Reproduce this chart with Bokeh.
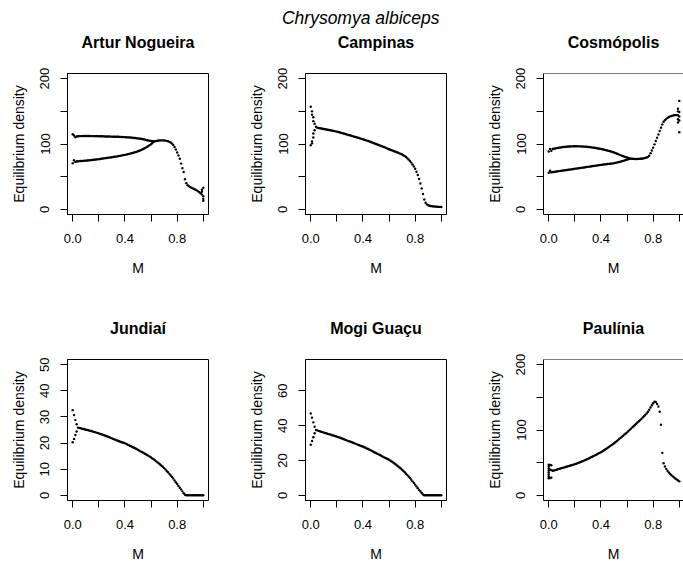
from bokeh.plotting import figure
from bokeh.models import Range1d, FixedTicker, NumeralTickFormatter, Title, ColumnDataSource, Span
from bokeh.layouts import column, row
from bokeh.embed import file_html
from bokeh.resources import INLINE

FONT = "Liberation Sans"

# Dispersal parameter M (x axis), step 0.01
M = [0.00, 0.01, 0.02, 0.03, 0.04, 0.05, 0.06, 0.07, 0.08, 0.09,
     0.10, 0.11, 0.12, 0.13, 0.14, 0.15, 0.16, 0.17, 0.18, 0.19,
     0.20, 0.21, 0.22, 0.23, 0.24, 0.25, 0.26, 0.27, 0.28, 0.29,
     0.30, 0.31, 0.32, 0.33, 0.34, 0.35, 0.36, 0.37, 0.38, 0.39,
     0.40, 0.41, 0.42, 0.43, 0.44, 0.45, 0.46, 0.47, 0.48, 0.49,
     0.50, 0.51, 0.52, 0.53, 0.54, 0.55, 0.56, 0.57, 0.58, 0.59,
     0.60, 0.61, 0.62, 0.63, 0.64, 0.65, 0.66, 0.67, 0.68, 0.69,
     0.70, 0.71, 0.72, 0.73, 0.74, 0.75, 0.76, 0.77, 0.78, 0.79,
     0.80, 0.81, 0.82, 0.83, 0.84, 0.85, 0.86, 0.87, 0.88, 0.89,
     0.90, 0.91, 0.92, 0.93, 0.94, 0.95, 0.96, 0.97, 0.98, 0.99, 1.00]

suptitle = "Chrysomya albiceps"
titles = ["Artur Nogueira", "Campinas", "Cosmópolis", "Jundiaí", "Mogi Guaçu", "Paulínia"]

# ---- Artur Nogueira: 2-cycle for M 0.00-0.62, single branch 0.63-1.00
artur_upper = [115.0, 113.0, 110.5, 111.5, 111.8, 112.0, 112.1, 112.1, 112.2, 112.2,
               112.2, 112.2, 112.2, 112.2, 112.1, 112.1, 112.1, 112.0, 112.0, 112.0,
               111.9, 111.9, 111.8, 111.8, 111.7, 111.6, 111.6, 111.5, 111.4, 111.3,
               111.3, 111.2, 111.2, 111.1, 111.0, 111.0, 110.9, 110.8, 110.7, 110.6,
               110.5, 110.4, 110.2, 110.1, 109.9, 109.7, 109.5, 109.3, 109.1, 108.9,
               108.6, 108.3, 108.0, 107.6, 107.2, 106.8, 106.3, 105.8, 105.3, 104.9,
               104.6, 104.3, 104.1]
artur_lower = [70.5, 75.0, 72.5, 73.2, 73.5, 73.7, 73.9, 74.0, 74.2, 74.3,
               74.5, 74.7, 74.9, 75.1, 75.3, 75.5, 75.8, 76.0, 76.2, 76.5,
               76.8, 77.1, 77.4, 77.7, 78.0, 78.3, 78.6, 78.9, 79.2, 79.5,
               79.8, 80.1, 80.4, 80.7, 81.0, 81.4, 81.8, 82.2, 82.6, 83.0,
               83.3, 83.8, 84.3, 84.8, 85.3, 85.8, 86.3, 86.9, 87.5, 88.2,
               88.9, 89.7, 90.5, 91.4, 92.4, 93.4, 94.5, 95.7, 97.0, 98.3,
               99.8, 101.5, 103.3]
artur_single = [104.3, 104.7, 105.0, 105.3, 105.5, 105.6, 105.6, 105.5, 105.2, 104.8,
                104.2, 103.3, 102.2, 100.6, 98.5, 95.5, 91.5, 87.0, 82.5, 77.5,
                70.0, 63.0, 57.0, 46.0, 40.0, 37.0, 35.5, 34.0, 33.0, 32.0,
                31.0, 30.0, 29.0, 27.5, 26.0, 24.5, 22.5, 20.0]
artur_extra_m = [0.99, 0.99, 1.00, 1.00, 1.00]
artur_extra_d = [27.0, 30.0, 13.0, 16.0, 33.0]

# ---- Campinas: oscillating points at M 0.00-0.03, single branch 0.04-1.00
campinas_early_m = [0.00, 0.00, 0.01, 0.01, 0.01, 0.01, 0.02, 0.02, 0.02, 0.02, 0.03, 0.03]
campinas_early_d = [157.0, 98.0, 150.0, 145.0, 104.0, 101.0, 141.0, 135.0, 116.0, 110.0, 131.0, 121.0]
campinas_single = [126.5,
                   125.0, 124.6, 124.2, 123.8, 123.4,
                   123.0, 122.6, 122.2, 121.8, 121.4, 121.0, 120.6, 120.2, 119.8, 119.4,
                   119.0, 118.4, 117.9, 117.3, 116.7, 116.1, 115.6, 115.0, 114.4, 113.8,
                   113.3, 112.7, 112.1, 111.5, 110.9, 110.3, 109.7, 109.1, 108.5, 107.9,
                   107.3, 106.6, 105.9, 105.2, 104.5, 103.8, 103.1, 102.3, 101.5, 100.7,
                   99.9, 99.2, 98.5, 97.8, 97.0, 96.2, 95.4, 94.6, 93.7, 92.8,
                   92.0, 91.3, 90.5, 89.8, 89.0, 88.2, 87.4, 86.6, 85.7, 84.9,
                   84.0, 82.8, 81.5, 80.0, 78.2, 76.2, 74.0, 71.5, 68.7, 65.7,
                   62.0, 57.5, 52.5, 46.5, 39.5, 32.0, 23.5, 15.0, 10.0, 7.5,
                   6.2, 5.5, 5.0, 4.7, 4.4, 4.2, 4.0, 3.8, 3.7, 3.6, 3.5]

# ---- Cosmópolis: 2-cycle for M 0.00-0.62, single branch 0.63-1.00
cosmo_upper = [88.5, 92.5, 89.5, 92.4, 92.8, 93.2, 93.6, 94.0, 94.4, 94.7,
               95.0, 95.3, 95.5, 95.7, 95.9, 96.1, 96.2, 96.3, 96.4, 96.5,
               96.5, 96.5, 96.5, 96.4, 96.4, 96.3, 96.2, 96.0, 95.9, 95.7,
               95.5, 95.3, 95.0, 94.8, 94.5, 94.2, 93.9, 93.5, 93.2, 92.8,
               92.4, 92.0, 91.5, 91.0, 90.5, 90.0, 89.5, 88.9, 88.3, 87.7,
               87.0, 86.2, 85.4, 84.6, 83.8, 83.0, 82.2, 81.4, 80.6, 79.9,
               79.3, 78.5, 77.8]
cosmo_lower = [56.0, 59.0, 56.5, 57.0, 57.2, 57.5, 57.8, 58.2, 58.5, 58.8,
               59.0, 59.3, 59.6, 59.9, 60.2, 60.5, 60.8, 61.1, 61.4, 61.7,
               62.0, 62.3, 62.6, 62.9, 63.2, 63.5, 63.8, 64.1, 64.4, 64.7,
               65.0, 65.3, 65.6, 65.9, 66.2, 66.5, 66.8, 67.1, 67.4, 67.7,
               68.0, 68.3, 68.5, 68.8, 69.0, 69.3, 69.5, 69.8, 70.0, 70.3,
               70.7, 71.1, 71.5, 72.0, 72.5, 73.0, 73.6, 74.2, 74.8, 75.4,
               76.0, 76.8, 77.6]
cosmo_single = [77.5, 77.3, 77.2, 77.1, 77.1, 77.1, 77.2, 77.3, 77.5, 77.8,
                78.2, 78.7, 79.3, 80.3, 82.0, 86.0, 90.0, 94.4, 99.5, 104.5,
                109.6, 114.6, 120.0, 125.0, 130.0, 134.0, 136.5, 138.5, 140.0, 141.3,
                142.3, 143.0, 143.5, 144.0, 144.2, 144.3, 144.0, 142.0]
cosmo_extra_m = [0.99, 0.99, 0.99, 0.99, 1.00, 1.00, 1.00, 1.00]
cosmo_extra_d = [150.0, 154.0, 138.0, 133.0, 166.0, 118.0, 149.0, 136.0]

# ---- Jundiaí: 2-cycle for M 0.00-0.03, single branch 0.04-1.00
jundiai_upper = [32.6, 30.7, 28.8, 27.2]
jundiai_lower = [20.3, 21.6, 23.1, 24.4]
jundiai_single = [25.9,
                  25.8, 25.7, 25.5, 25.4, 25.3,
                  25.1, 25.0, 24.9, 24.7, 24.6, 24.5, 24.3, 24.2, 24.0, 23.9,
                  23.7, 23.5, 23.4, 23.2, 23.0, 22.8, 22.6, 22.4, 22.2, 22.0,
                  21.8, 21.6, 21.4, 21.2, 21.0, 20.8, 20.6, 20.4, 20.2, 20.1,
                  19.9, 19.7, 19.4, 19.2, 18.9, 18.7, 18.4, 18.2, 17.9, 17.7,
                  17.4, 17.1, 16.8, 16.6, 16.3, 16.0, 15.7, 15.4, 15.1, 14.8,
                  14.5, 14.1, 13.8, 13.4, 13.0, 12.6, 12.2, 11.8, 11.3, 10.9,
                  10.4, 9.9, 9.3, 8.8, 8.2, 7.6, 7.0, 6.4, 5.7, 5.0,
                  4.3, 3.6, 2.9, 2.2, 1.5, 0.8, 0.2, 0.0, 0.0, 0.0,
                  0.0, 0.0, 0.0, 0.0, 0.0, 0.0, 0.0, 0.0, 0.0, 0.0, 0.0]

# ---- Mogi Guaçu: 2-cycle for M 0.00-0.03, single branch 0.04-1.00
mogi_upper = [47.0, 44.6, 41.9, 39.4]
mogi_lower = [29.0, 31.2, 33.3, 35.6]
mogi_single = [37.5,
               37.3, 37.0, 36.8, 36.5, 36.3,
               36.0, 35.8, 35.6, 35.3, 35.1, 34.9, 34.6, 34.4, 34.2, 33.9,
               33.7, 33.4, 33.2, 32.9, 32.6, 32.3, 32.0, 31.7, 31.4, 31.1,
               30.9, 30.6, 30.3, 30.0, 29.7, 29.4, 29.1, 28.8, 28.5, 28.2,
               28.0, 27.6, 27.3, 26.9, 26.6, 26.2, 25.8, 25.4, 25.0, 24.6,
               24.3, 23.9, 23.5, 23.1, 22.7, 22.3, 21.9, 21.5, 21.1, 20.8,
               20.4, 19.9, 19.4, 18.9, 18.4, 17.8, 17.2, 16.6, 16.0, 15.4,
               14.7, 14.0, 13.2, 12.4, 11.6, 10.8, 9.9, 9.0, 8.0, 7.1,
               6.1, 5.1, 4.1, 3.1, 2.2, 1.3, 0.5, 0.0, 0.0, 0.0,
               0.0, 0.0, 0.0, 0.0, 0.0, 0.0, 0.0, 0.0, 0.0, 0.0, 0.0]

# ---- Paulínia: oscillating points at M 0.00-0.02, single branch 0.03-1.00
paulinia_early_m = [0.00, 0.00, 0.00, 0.00, 0.00, 0.00, 0.00, 0.00,
                    0.01, 0.01, 0.01, 0.02, 0.02, 0.02]
paulinia_early_d = [47.0, 44.0, 41.0, 38.0, 35.0, 32.0, 29.0, 26.0,
                    46.5, 39.0, 26.5, 46.0, 38.5, 27.0]
paulinia_single = [37.5, 38.0, 38.6, 39.2, 39.8, 40.4, 41.0,
                   41.6, 42.2, 42.8, 43.4, 44.0, 44.6, 45.2, 45.8, 46.4, 47.0,
                   47.7, 48.4, 49.1, 49.9, 50.7, 51.5, 52.3, 53.1, 54.0, 54.9,
                   55.8, 56.8, 57.8, 58.8, 59.8, 60.8, 61.8, 62.8, 63.9, 65.0,
                   66.0, 67.2, 68.5, 69.8, 71.1, 72.5, 73.9, 75.3, 76.8, 78.2,
                   79.7, 81.3, 82.9, 84.5, 86.2, 87.9, 89.6, 91.3, 93.0, 94.7,
                   96.4, 98.3, 100.2, 102.1, 104.0, 105.8, 107.7, 109.6, 111.5, 113.4,
                   115.2, 117.1, 119.1, 121.1, 123.2, 125.4, 127.9, 131.0, 134.5, 138.0,
                   141.0, 143.3, 143.0, 140.0, 136.0, 128.0, 108.0, 65.0, 49.0, 44.0,
                   40.5, 37.5, 35.0, 32.8, 30.8, 29.0, 27.3, 25.8, 24.3, 22.8, 21.3]

# axis settings per panel: (ylim, labelled ticks, unlabelled ticks)
ylims = [(0, 200), (0, 200), (0, 200), (0, 50), (0, 75), (0, 200)]
ymajor = [[0, 100, 200], [0, 100, 200], [0, 100, 200], [0, 10, 20, 30, 40, 50], [0, 20, 40, 60], [0, 100, 200]]
yminor = [[50, 150], [50, 150], [50, 150], [], [], [50, 150]]
x_major = [0.0, 0.4, 0.8]
x_minor = [0.2, 0.6, 1.0]

series_m = [
    M[:63] + M[:63] + M[63:] + artur_extra_m,
    campinas_early_m + M[4:],
    M[:63] + M[:63] + M[63:] + cosmo_extra_m,
    M[:4] + M[:4] + M[4:],
    M[:4] + M[:4] + M[4:],
    paulinia_early_m + M[3:],
]
series_d = [
    artur_upper + artur_lower + artur_single + artur_extra_d,
    campinas_early_d + campinas_single,
    cosmo_upper + cosmo_lower + cosmo_single + cosmo_extra_d,
    jundiai_upper + jundiai_lower + jundiai_single,
    mogi_upper + mogi_lower + mogi_single,
    paulinia_early_d + paulinia_single,
]


def make_panel(i):
    col = i % 3
    top = i < 3
    last = col == 2
    lo, hi = ylims[i]
    pad = 0.04 * (hi - lo)
    x_end = -0.04 + 140 * 1.08 / 141 if last else 1.04
    p = figure(width=207 if last else 238, height=287 if top else 286,
               x_range=Range1d(-0.04, x_end), y_range=Range1d(lo - pad, hi + pad),
               output_backend="svg", toolbar_location=None,
               min_border_left=67, min_border_right=0 if last else 30,
               min_border_top=73 if top else 72, min_border_bottom=73)
    p.title.text = ""
    p.background_fill_color = "white"
    p.border_fill_color = "white"
    p.xgrid.visible = False
    p.ygrid.visible = False
    if last:
        p.outline_line_color = None
        p.add_layout(Span(location=hi + pad, dimension="width", line_color="black", line_width=1))
    else:
        p.outline_line_color = "black"
        p.outline_line_width = 1

    for ax in (p.xaxis[0], p.yaxis[0]):
        ax.axis_line_color = "black"
        ax.major_tick_in = 0
        ax.major_tick_out = 7
        ax.minor_tick_in = 0
        ax.minor_tick_out = 7
        ax.major_tick_line_color = "black"
        ax.minor_tick_line_color = "black"
        ax.major_label_text_font = FONT
        ax.major_label_text_font_size = "13px"
        ax.major_label_text_color = "black"
        ax.axis_label_text_font = FONT
        ax.axis_label_text_font_size = "14px"
        ax.axis_label_text_font_style = "normal"
        ax.axis_label_text_color = "black"

    p.xaxis[0].ticker = FixedTicker(ticks=x_major, minor_ticks=x_minor)
    p.xaxis[0].formatter = NumeralTickFormatter(format="0.0")
    p.xaxis[0].axis_label = "M"
    p.xaxis[0].major_label_standoff = 12
    p.xaxis[0].axis_label_standoff = 14

    p.yaxis[0].ticker = FixedTicker(ticks=ymajor[i], minor_ticks=yminor[i])
    p.yaxis[0].axis_label = "Equilibrium density"
    p.yaxis[0].major_label_orientation = "vertical"
    p.yaxis[0].major_label_standoff = 11
    p.yaxis[0].axis_label_standoff = 11

    t = Title(text=titles[i], align="center", text_font=FONT, text_font_size="16px",
              text_font_style="bold", text_color="black", standoff=45)
    p.add_layout(t, "above")
    if i == 1:
        st = Title(text=suptitle, align="right", offset=7, text_font=FONT,
                   text_font_size="17.5px", text_font_style="italic",
                   text_color="black", standoff=-36)
        p.add_layout(st, "above")

    src = ColumnDataSource(dict(m=series_m[i], d=series_d[i]))
    p.scatter(x="m", y="d", source=src, size=2.4, color="black", line_color=None)
    return p


panels = [make_panel(i) for i in range(6)]
layout = column(row(panels[0], panels[1], panels[2], spacing=0),
                row(panels[3], panels[4], panels[5], spacing=0), spacing=0)

open("out.html", "w").write(file_html(layout, INLINE))
